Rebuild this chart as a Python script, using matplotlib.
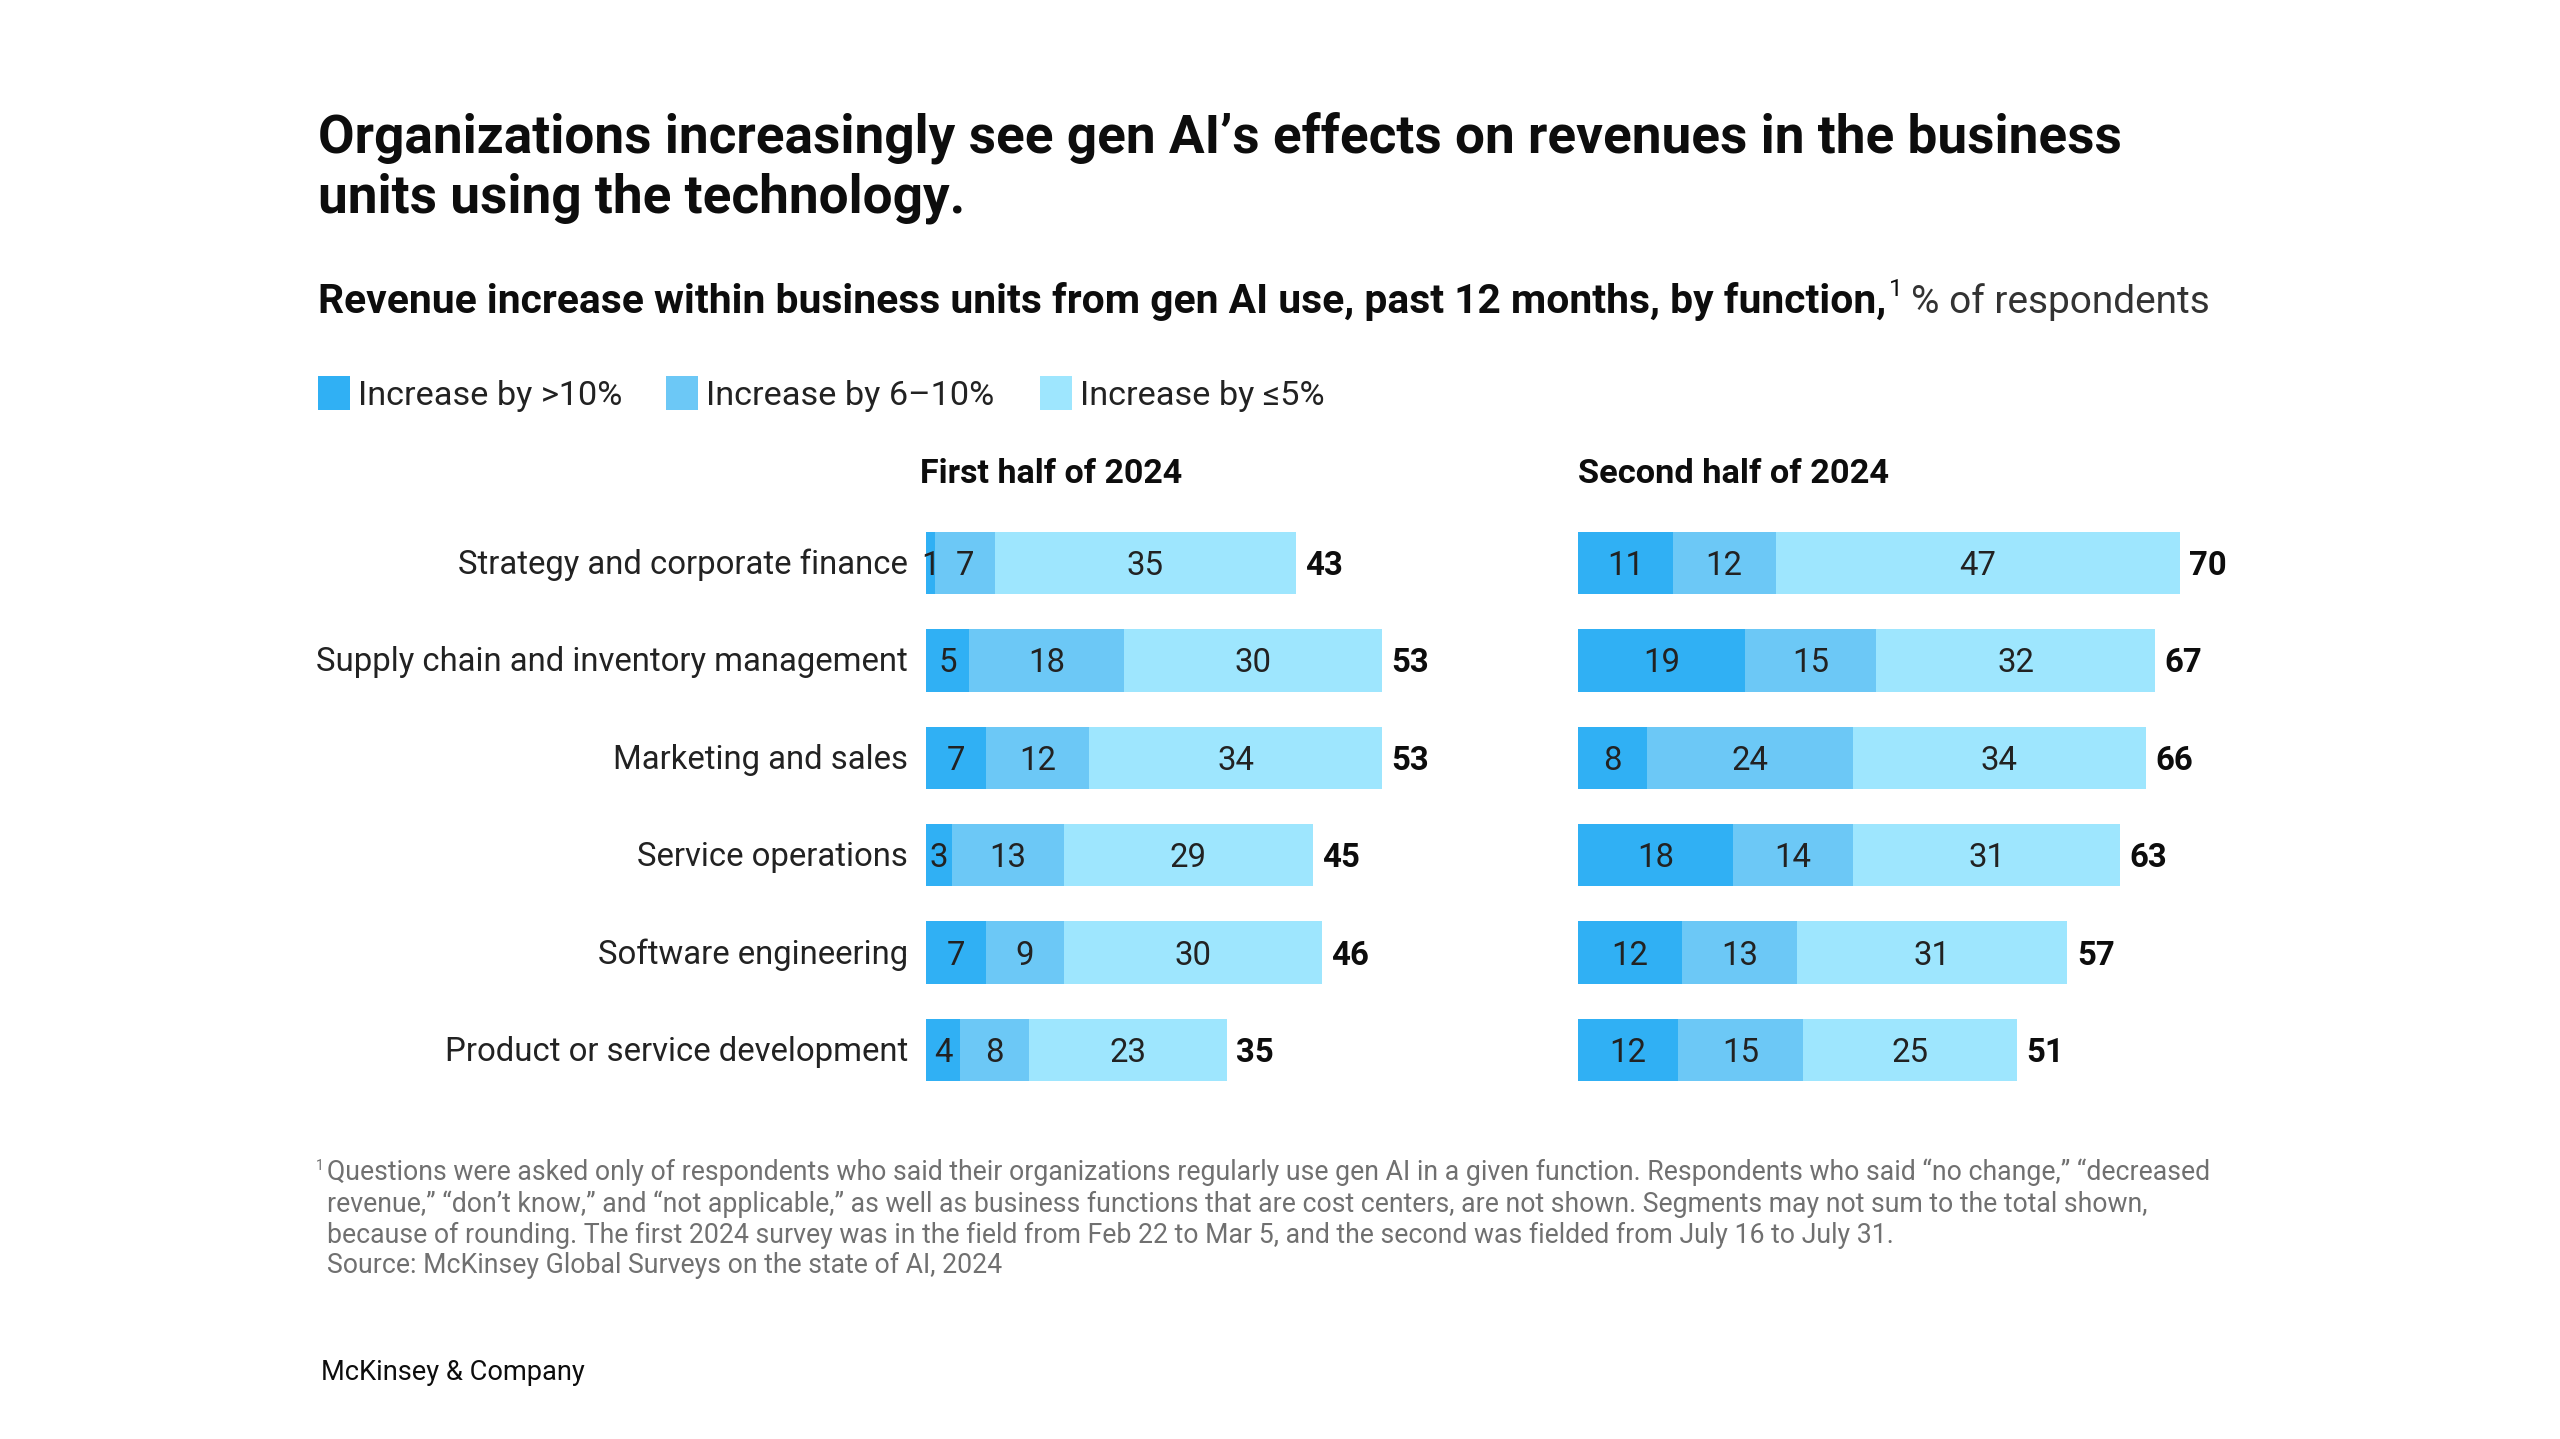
import matplotlib
matplotlib.use("Agg")
import matplotlib.pyplot as plt
from matplotlib.patches import Rectangle
import numpy as np

W, H = 2560, 1439

functions = ["Strategy and corporate finance", "Supply chain and inventory management",
             "Marketing and sales", "Service operations", "Software engineering",
             "Product or service development"]
series = ["Increase by >10%", "Increase by 6\u201310%", "Increase by \u22645%"]
colors = ["#30B0F4", "#6CC8F6", "#9EE6FE"]

# segment values as drawn (labels are these rounded)
h1_big = [1, 5, 7, 3, 7, 4]
h1_mid = [7, 18, 12, 13, 9, 8]
h1_small = [35, 30, 34, 29, 30, 23]
h1_total = [43, 53, 53, 45, 46, 35]

h2_big = [11, 19.4, 8, 18, 12.1, 11.6]
h2_mid = [12, 15.3, 24, 14, 13.4, 14.6]
h2_small = [47, 32.4, 34, 31, 31.4, 24.8]
h2_total = [70, 67, 66, 63, 57, 51]

panels = [("First half of 2024", [h1_big, h1_mid, h1_small], h1_total),
          ("Second half of 2024", [h2_big, h2_mid, h2_small], h2_total)]

title = ["Organizations increasingly see gen AI\u2019s effects on revenues in the business",
         "units using the technology."]
sub_bold = "Revenue increase within business units from gen AI use, past 12 months, by function,"
sub_reg = "% of respondents"
footnote = ["Questions were asked only of respondents who said their organizations regularly use gen AI in a given function. Respondents who said \u201cno change,\u201d \u201cdecreased",
            "revenue,\u201d \u201cdon\u2019t know,\u201d and \u201cnot applicable,\u201d as well as business functions that are cost centers, are not shown. Segments may not sum to the total shown,",
            "because of rounding. The first 2024 survey was in the field from Feb 22 to Mar 5, and the second was fielded from July 16 to July 31.",
            "Source: McKinsey Global Surveys on the state of AI, 2024"]

FONT = "Roboto"
DARK = "#0d0d0d"
TXT = "#222222"
GREY = "#707070"
BODY = "normal"

fig = plt.figure(figsize=(W / 100, H / 100), dpi=100)
fig.patch.set_facecolor("white")
R = fig.canvas.get_renderer()


def fx(x):
    return x / W


def fy(y):
    return 1 - y / H


def put(x, y, s, size=20, **kw):
    kw.setdefault("family", FONT)
    return fig.text(fx(x), fy(y), s, fontsize=size, **kw)


def width(t):
    return t.get_window_extent(R).width


def fit(t, target):
    t.set_fontsize(t.get_fontsize() * target / width(t))
    return t.get_fontsize()


# title
t = put(318, 152, title[0], 30, weight="bold", color=DARK, va="baseline")
tsize = fit(t, 1800)
put(318, 213, title[1], tsize, weight="bold", color=DARK, va="baseline")

# subtitle
sb = put(318, 313, sub_bold, 20, weight="bold", color=DARK, va="baseline")
ssize = fit(sb, 1560)
x_end = 318 + width(sb)
sup = put(x_end + 3, 296, "1", ssize * 0.6, color=DARK, va="baseline")
x_end = x_end + 3 + width(sup) + 8
sr = put(x_end, 313, sub_reg, ssize, weight=BODY, color="#333333", va="baseline")
fit(sr, 2211 - x_end)

# legend
leg_x = [318, 666, 1040]
lsize = None
for i, (lx, name) in enumerate(zip(leg_x, series)):
    fig.patches.append(Rectangle((fx(lx), fy(410)), 32 / W, 34 / H,
                                 transform=fig.transFigure, color=colors[i], lw=0))
    lt = put(lx + 40, 405, name, 20 if lsize is None else lsize,
             weight=BODY, color=TXT, va="baseline")
    if lsize is None:
        lsize = fit(lt, 264)

# panels
px_per_unit = 8.6
row_top, row_bot = 514.3, 1098.7
panel_left = [926, 1578]
xmax = 75
for k, (head, segs, totals) in enumerate(panels):
    left = panel_left[k]
    ax = fig.add_axes([fx(left), fy(row_bot), xmax * px_per_unit / W, (row_bot - row_top) / H])
    ax.set_xlim(0, xmax)
    ax.set_ylim(len(functions) - 0.5, -0.5)
    ax.set_axis_off()
    y = np.arange(len(functions))
    base = np.zeros(len(functions))
    for j, vals in enumerate(segs):
        vals = np.array(vals, dtype=float)
        ax.barh(y, vals, left=base, height=0.64, color=colors[j], lw=0)
        for yi, (b, v) in enumerate(zip(base, vals)):
            ax.text(b + v / 2, yi + 0.03, f"{v:.0f}", ha="center", va="center",
                    family=FONT, weight=BODY, color=TXT, fontsize=20)
        base = base + vals
    for yi, tot in enumerate(totals):
        ax.text(base[yi] + 1.1, yi + 0.03, str(tot), ha="left", va="center",
                family=FONT, weight="bold", color=DARK, fontsize=20)
    hd = put(left - 6 if k == 0 else left, 483, head, 20, weight="bold", color=DARK, va="baseline")
    fit(hd, 262 if k == 0 else 310)

# category labels
centers = np.linspace(563, 1050, len(functions))
cats = [put(908, centers[i] + 2, name, 20, weight=BODY, color=TXT, ha="right", va="center")
        for i, name in enumerate(functions)]
csize = fit(cats[1], 590)
for ct in cats:
    ct.set_fontsize(csize)

# bar numbers use the same size as the category labels
for ax in fig.axes:
    for tx in ax.texts:
        tx.set_fontsize(csize)

# footnote
put(316, 1170, "1", 10, color=GREY, va="baseline")
fbl = [1180, 1212, 1243, 1273]
f0 = put(327, fbl[0], footnote[0], 16, weight=BODY, color=GREY, va="baseline")
fsize = fit(f0, 1880)
for line, b in zip(footnote[1:], fbl[1:]):
    put(327, b, line, fsize, weight=BODY, color=GREY, va="baseline")

mk = put(321, 1380, "McKinsey & Company", 18, color=DARK, va="baseline")
fit(mk, 264)

fig.savefig("out.png", dpi=100, facecolor="white")
